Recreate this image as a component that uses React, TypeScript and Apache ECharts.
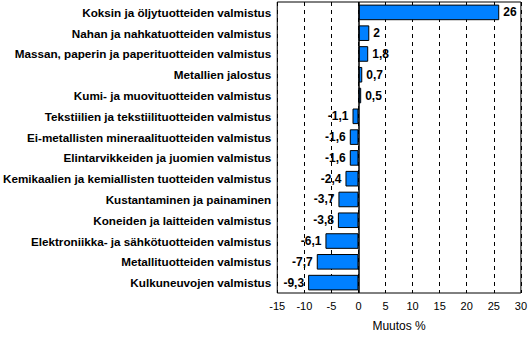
import React, { useEffect, useRef } from "react";
import * as echarts from "echarts";

const categories = [
  "Koksin ja öljytuotteiden valmistus",
  "Nahan ja nahkatuotteiden valmistus",
  "Massan, paperin ja paperituotteiden valmistus",
  "Metallien jalostus",
  "Kumi- ja muovituotteiden valmistus",
  "Tekstiilien ja tekstiilituotteiden valmistus",
  "Ei-metallisten mineraalituotteiden valmistus",
  "Elintarvikkeiden ja juomien valmistus",
  "Kemikaalien ja kemiallisten tuotteiden valmistus",
  "Kustantaminen ja painaminen",
  "Koneiden ja laitteiden valmistus",
  "Elektroniikka- ja sähkötuotteiden valmistus",
  "Metallituotteiden valmistus",
  "Kulkuneuvojen valmistus",
];
const values = [26, 2, 1.8, 0.7, 0.5, -1.1, -1.6, -1.6, -2.4, -3.7, -3.8, -6.1, -7.7, -9.3];
const axisTitle = "Muutos %";

const FONT = "'Liberation Sans', Arial, sans-serif";

export default function App() {
  const ref = useRef<HTMLDivElement>(null);
  useEffect(() => {
    if (!ref.current) return;
    const chart = echarts.init(ref.current, undefined, { renderer: "svg" });
    chart.setOption({
      animation: false,
      backgroundColor: "#ffffff",
      grid: {
        left: 276,
        right: 7,
        top: 2,
        bottom: 35,
        show: true,
        borderColor: "#000",
        borderWidth: 1,
        backgroundColor: "transparent",
      },
      xAxis: {
        type: "value",
        min: -15,
        max: 30,
        interval: 5,
        name: axisTitle,
        nameLocation: "middle",
        nameGap: 27,
        nameTextStyle: { color: "#000", fontSize: 12, fontFamily: FONT },
        axisLine: { show: false },
        axisTick: { show: false },
        axisLabel: { color: "#000", fontSize: 11, fontFamily: FONT, margin: 7 },
        splitLine: { show: true, lineStyle: { color: "#000", type: [4, 4], width: 1 } },
      },
      yAxis: {
        type: "category",
        data: categories,
        inverse: true,
        axisLine: { show: false },
        axisTick: { show: false },
        axisLabel: { color: "#000", fontSize: 11.7, fontWeight: "bold", fontFamily: FONT, margin: 6 },
        splitLine: { show: false },
      },
      series: [
        {
          type: "bar",
          data: values.map((v) =>
            v < 0 ? { value: v, label: { position: "left" } } : { value: v }
          ),
          barWidth: "75%",
          itemStyle: { color: "#0080ff", borderColor: "#000", borderWidth: 1 },
          label: {
            show: true,
            position: "right",
            distance: 4,
            color: "#000",
            fontSize: 12,
            fontWeight: "bold",
            fontFamily: FONT,
            formatter: (p: any) => String(p.value).replace(".", ","),
          },
          markLine: {
            silent: true,
            symbol: "none",
            label: { show: false },
            lineStyle: { color: "#000", type: "solid", width: 1.5 },
            data: [{ xAxis: 0 }],
          },
        },
      ],
    });
    return () => chart.dispose();
  }, []);
  return (
    <div
      ref={ref}
      style={{ position: "fixed", left: 0, top: 0, width: 530, height: 337 }}
    />
  );
}
